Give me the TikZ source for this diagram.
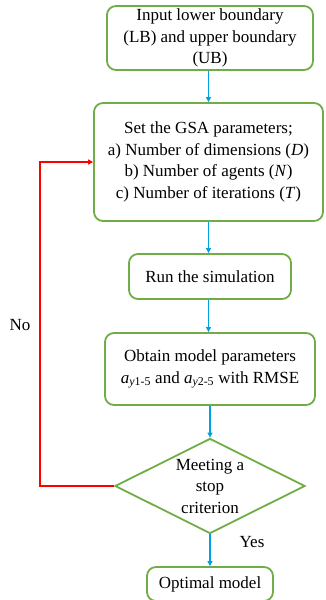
\documentclass[tikz,border=0pt]{standalone}
\usepackage{fontspec}
\setmainfont{Liberation Serif}
\usetikzlibrary{shapes.geometric,arrows.meta}
\definecolor{boxgreen}{RGB}{112,173,71}
\definecolor{flowblue}{RGB}{0,160,225}
\tikzset{
  stepbox/.style={draw=boxgreen,line width=1.8bp,rounded corners=9bp,align=center,
    inner sep=0pt,font=\fontsize{17bp}{21.5bp}\selectfont},
  choice/.style={draw=boxgreen,line width=1.8bp,diamond,aspect=2,align=center,
    inner sep=0pt,font=\fontsize{17bp}{21.5bp}\selectfont},
  flow/.style={draw=flowblue,line width=1.3bp,-{Triangle[length=5bp,width=5bp]}},
  back/.style={draw=red,line width=1.8bp,-{Triangle[length=5bp,width=5bp]}},
  tag/.style={font=\fontsize{17bp}{20bp}\selectfont}
}
\begin{document}
\begin{tikzpicture}[x=1bp,y=-1bp]
        \useasboundingbox (0,0) rectangle (325,600);

        \node[stepbox,minimum width=206bp,minimum height=64bp] (input) at (210,38)
                {Input lower boundary\\(LB) and upper boundary\\(UB)};
        \node[stepbox,minimum width=229bp,minimum height=118bp] (gsa) at (208.5,162)
                {Set the GSA parameters;\\a) Number of dimensions (\textit{D})\\
                 b) Number of agents (\textit{N})\\c) Number of iterations (\textit{T})};
        \node[stepbox,minimum width=162bp,minimum height=45bp] (run) at (210,276.5)
                {Run the simulation};
        \node[stepbox,minimum width=210bp,minimum height=72bp] (obtain) at (210,369)
                {Obtain model parameters\\
                 \textit{a}\textsubscript{\textit{y}1-5} and \textit{a}\textsubscript{\textit{y}2-5} with RMSE};
        \node[choice,minimum width=190bp,minimum height=95bp] (stop) at (210,486)
                {Meeting a\\stop\\criterion};
        \node[stepbox,minimum width=126bp,minimum height=34bp] (optimal) at (210,584)
                {Optimal model};

        \draw[flow] (gsa.north |- input.south) -- (gsa.north);
        \draw[flow] (gsa.south) -- (gsa.south |- run.north);
        \draw[flow] (gsa.south |- run.south) -- (gsa.south |- obtain.north);
        \draw[flow] (obtain) -- (stop);
        \draw[flow] (stop) -- (optimal);

        \coordinate (turn) at (40,486);
        \draw[back] (stop.west) -- (turn) |- (gsa.west);

        \node[tag] (no) at (20,325) {No};
        \node[tag] (yes) at (252,542) {Yes};
\end{tikzpicture}
\end{document}
